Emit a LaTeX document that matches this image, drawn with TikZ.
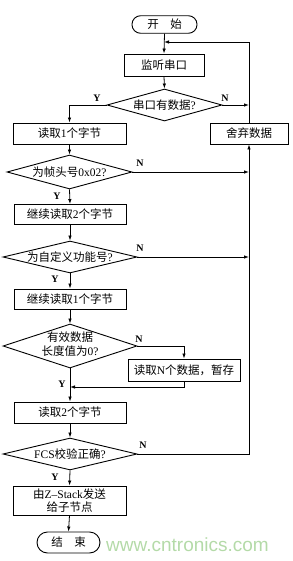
\documentclass[tikz,border=0pt]{standalone}
\usepackage{fontspec}
\setmainfont{Liberation Serif}
\newfontfamily\cjkfont{Noto Sans CJK SC}
\newfontfamily\wmfont{Liberation Sans}
\newcommand\zhs[1]{{\cjkfont #1}}
\usetikzlibrary{shapes.geometric,arrows.meta}
\definecolor{wmgreen}{HTML}{B4DAA8}
\begin{document}
\begin{tikzpicture}[x=1pt,y=-1pt,
  every node/.style={font=\fontsize{11.5}{13.5}\selectfont},
  line/.style={line width=0.8pt},
  arr/.style={line width=0.8pt,-{Latex[length=5pt,width=3.5pt]}},
  procbox/.style={draw,line width=0.9pt,inner sep=0pt,minimum height=21pt},
  termbox/.style={draw,line width=0.9pt,inner sep=0pt,rounded corners=8.5pt},
  dia/.style={draw,diamond,line width=0.9pt,inner sep=0pt,shape aspect=3.6},
  yn/.style={font=\fontsize{10}{12}\selectfont\bfseries,inner sep=0pt}]
\useasboundingbox (0,0) rectangle (292,561);

% nodes
\node[termbox,minimum width=65pt,minimum height=17.5pt] (start) at (164.5,24.5) {\zhs{开}\hspace{1em}\zhs{始}};
\node[procbox,minimum width=80pt,minimum height=22pt] (listen) at (164,65) {\zhs{监听串口}};
\node[dia,minimum width=115pt,minimum height=32pt] (d1) at (164.5,105) {\makebox[0pt]{\zhs{串口有数据}?}};
\node[procbox,minimum width=113pt] (b1) at (69.5,133.5) {\zhs{读取}1\zhs{个字节}};
\node[procbox,minimum width=78pt] (sq) at (249,133.5) {\zhs{舍弃数据}};
\node[dia,minimum width=125pt,minimum height=34pt] (d2) at (69.5,172) {\makebox[0pt]{\zhs{为帧头号}0x02?}};
\node[procbox,minimum width=112pt,minimum height=20pt] (b2) at (70,214.5) {\zhs{继续读取}2\zhs{个字节}};
\node[dia,minimum width=134pt,minimum height=32pt] (d3) at (70,257) {\makebox[0pt]{\zhs{为自定义功能号}?}};
\node[procbox,minimum width=112pt,minimum height=20pt] (b3) at (70,299) {\zhs{继续读取}1\zhs{个字节}};
\node[dia,minimum width=134pt,minimum height=44pt] (d4) at (70,346) {\makebox[0pt]{\begin{tabular}{@{}c@{}}\zhs{有效数据}\\\zhs{长度值为}0?\end{tabular}}};
\node[procbox,minimum width=112pt,minimum height=22pt] (bn) at (184,370) {\zhs{读取}N\zhs{个数据，暂存}};
\node[procbox,minimum width=112pt] (b4) at (70,412.5) {\zhs{读取}2\zhs{个字节}};
\node[dia,minimum width=134pt,minimum height=32pt] (d5) at (70,454) {\makebox[0pt]{FCS\zhs{校验正确}?}};
\node[procbox,minimum width=113pt,minimum height=29pt,align=center] (b5) at (69.5,500.5) {\zhs{由}Z–Stack\zhs{发送}\\\zhs{给子节点}};
\node[termbox,minimum width=63pt,minimum height=21pt,rounded corners=10.5pt] (end) at (68.5,542.5) {\zhs{结}\hspace{1em}\zhs{束}};

% junction coordinates
\coordinate (j0) at (164,42);
\coordinate (j1) at (sq.center |- d1.east);
\coordinate (j2) at (sq.center |- d2.east);
\coordinate (j3) at (sq.center |- d3.east);
\coordinate (j5) at (sq.center |- d5.east);
\coordinate (jy) at (70,387);

% connectors
\draw[arr] (start.south) -- (listen.north);
\draw[arr] (sq.north) |- (j0);
\draw[arr] (listen.south) -- (d1.north);
\draw[arr] (d1.west) -| (b1.north);
\draw[arr] (d1.east) -- (j1);
\draw[arr] (b1.south) -- (d2.north);
\draw[arr] (d2.south) -- (b2.north);
\draw[arr] (d2.east) -- (j2);
\draw[arr] (b2.south) -- (d3.north);
\draw[arr] (d3.south) -- (b3.north);
\draw[arr] (d3.east) -- (j3);
\draw[arr] (b3.south) -- (d4.north);
\draw[arr] (d4.south) -- (b4.north);
\draw[arr] (d4.east) -| (bn.north);
\draw[arr] (bn.south) |- (jy);
\draw[arr] (b4.south) -- (d5.north);
\draw[arr] (d5.south) -- (b5.north);
\draw[arr] (d5.east) -- (j5) -- (sq.south);
\draw[arr] (b5.south) -- (end.north);

% Y / N labels
\node[yn] (y1) at (97,98) {Y};
\node[yn] (n1) at (225,98) {N};
\node[yn] (n2) at (140,163) {N};
\node[yn] (y2) at (57,196) {Y};
\node[yn] (n3) at (140,248) {N};
\node[yn] (y3) at (55,279) {Y};
\node[yn] (n4) at (139,339) {N};
\node[yn] (y4) at (62,384) {Y};
\node[yn] (n5) at (143,445) {N};
\node[yn] (y5) at (55,477) {Y};

% watermark
\node[anchor=west,inner sep=0pt,text=wmgreen,font=\wmfont\fontsize{19}{20}\selectfont] (wm) at (106,545) {www.cntronics.com};
\end{tikzpicture}
\end{document}
